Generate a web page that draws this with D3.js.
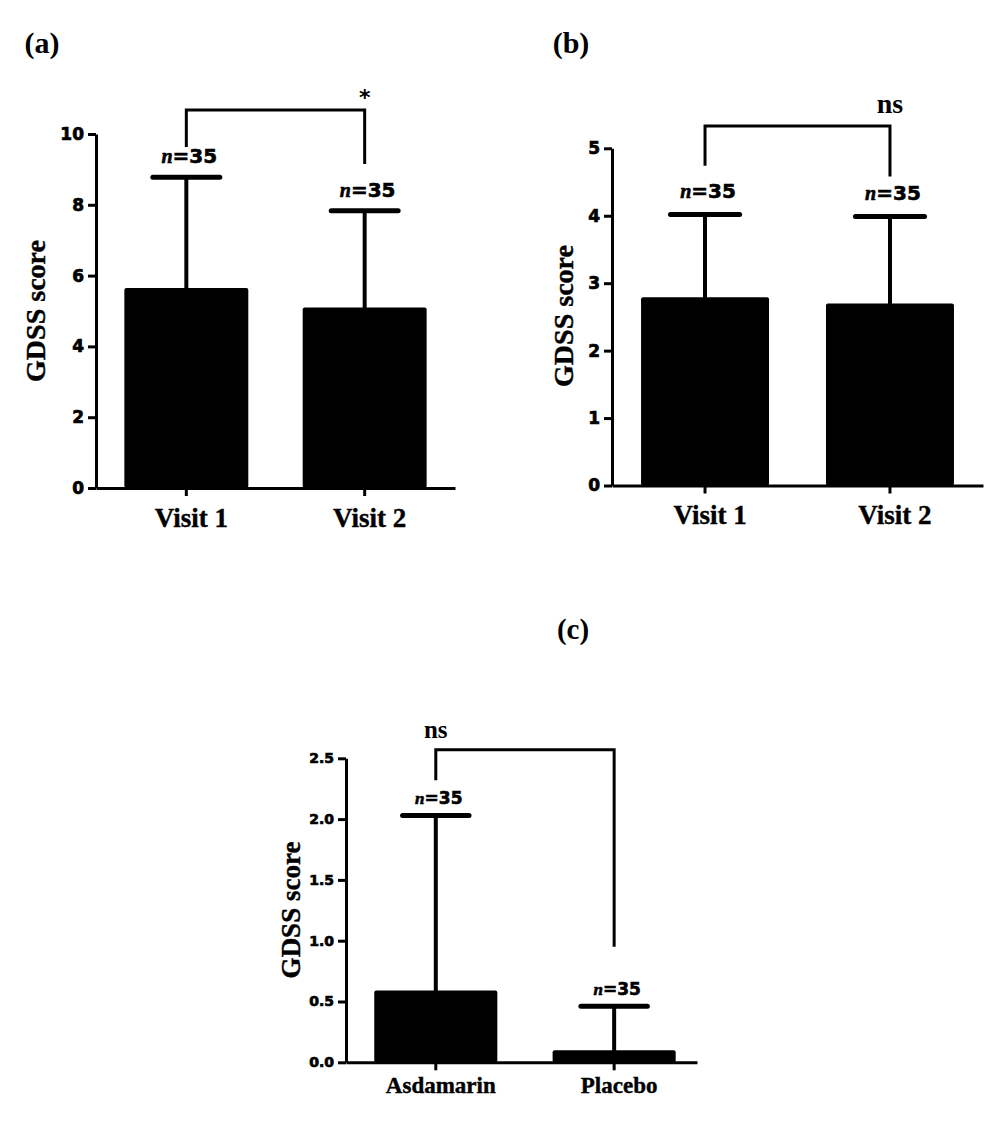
<!DOCTYPE html>
<html><head><meta charset="utf-8">
<script src="https://cdn.jsdelivr.net/npm/d3@7"></script>
<style>body{margin:0;background:#fff}</style>
</head><body>
<svg id="chart" width="1000" height="1123"></svg>
<script>
// ---------- data ----------
const groupsA = ["Visit 1", "Visit 2"];
const meanA = [5.65, 5.10];
const sdA = [3.13, 2.73];
const nA = [35, 35];
const ticksA = [0, 2, 4, 6, 8, 10];
const sigA = "*";
const bracketA = [9.63, 10.68, 9.15]; // left leg end, bar top, right leg end (score units)

const groupsB = ["Visit 1", "Visit 2"];
const meanB = [2.79, 2.70];
const sdB = [1.23, 1.29];
const nB = [35, 35];
const ticksB = [0, 1, 2, 3, 4, 5];
const sigB = "ns";
const bracketB = [4.74, 5.33, 4.58];

const groupsC = ["Asdamarin", "Placebo"];
const meanC = [0.59, 0.10];
const sdC = [1.44, 0.36];
const nC = [35, 35];
const ticksC = [0, 0.5, 1.0, 1.5, 2.0, 2.5];
const sigC = "ns";
const bracketC = [2.32, 2.57, 0.95];

const panelLabels = ["(a)", "(b)", "(c)"];
const yTitle = "GDSS score";

// ---------- layout ----------
const SERIF = "'Liberation Serif','Times New Roman',serif";
const SANS = "'DejaVu Sans',Arial,sans-serif";
const svg = d3.select("#chart");

const panels = [
  {groups: groupsA, mean: meanA, sd: sdA, n: nA, ticks: ticksA, sig: sigA, bracket: bracketA, label: panelLabels[0],
   left: 96, right: 455, bottom: 488, top: 134, pi: 0.305, po: 0.159, align: 0.5,
   tickFont: 17, fmt: d3.format("d"), catFont: 27, catY: 39, nFont: 20, nOff: 14,
   yLabX: 45, yLabY: 311, yLabFont: 28, sigSide: 1, sigFont: 22, sigGap: 5, sigFam: SANS,
   panelX: 42, panelY: 53, panelFont: 30},
  {groups: groupsB, mean: meanB, sd: sdB, n: nB, ticks: ticksB, sig: sigB, bracket: bracketB, label: panelLabels[1],
   left: 612, right: 983, bottom: 485.5, top: 148.3, pi: 0.308, po: 0.157, align: 0.5,
   tickFont: 17, fmt: d3.format("d"), catFont: 27, catY: 38, nFont: 20, nOff: 16,
   yLabX: 573, yLabY: 316, yLabFont: 28, sigSide: 1, sigFont: 28, sigGap: 13, sigFam: SERIF,
   panelX: 571, panelY: 53, panelFont: 30},
  {groups: groupsC, mean: meanC, sd: sdC, n: nC, ticks: ticksC, sig: sigC, bracket: bracketC, label: panelLabels[2],
   left: 346, right: 697, bottom: 1062.3, top: 758.3, pi: 0.31, po: 0.139, align: 0.57,
   tickFont: 14, fmt: d3.format(".1f"), catFont: 23, catY: 31, nFont: 17, nOff: 11,
   yLabX: 300, yLabY: 910, yLabFont: 27, sigSide: 0, sigFont: 25, sigGap: 12, sigFam: SERIF,
   panelX: 573, panelY: 639, panelFont: 29}
];

panels.forEach(p => {
  const g = svg.append("g");
  const x = d3.scaleBand().domain(p.groups).range([p.left, p.right])
    .paddingInner(p.pi).paddingOuter(p.po).align(p.align);
  const y = d3.scaleLinear().domain([0, d3.max(p.ticks)]).range([p.bottom, p.top]);
  const cx = d => x(d) + x.bandwidth() / 2;

  // bars
  g.selectAll("rect.bar").data(p.groups).join("rect")
    .attr("class", "bar")
    .attr("x", d => x(d)).attr("width", x.bandwidth())
    .attr("y", (d, i) => y(p.mean[i])).attr("height", (d, i) => y(0) - y(p.mean[i]))
    .attr("rx", 2).attr("fill", "#000");

  // error bars (upper only)
  const capW = x.bandwidth() * 0.54;
  g.selectAll("line.err").data(p.groups).join("line")
    .attr("class", "err")
    .attr("x1", cx).attr("x2", cx)
    .attr("y1", (d, i) => y(p.mean[i]) + 2).attr("y2", (d, i) => y(p.mean[i] + p.sd[i]))
    .attr("stroke", "#000").attr("stroke-width", 4);
  g.selectAll("line.cap").data(p.groups).join("line")
    .attr("class", "cap")
    .attr("x1", d => cx(d) - capW / 2).attr("x2", d => cx(d) + capW / 2)
    .attr("y1", (d, i) => y(p.mean[i] + p.sd[i])).attr("y2", (d, i) => y(p.mean[i] + p.sd[i]))
    .attr("stroke", "#000").attr("stroke-width", 5).attr("stroke-linecap", "round");

  // n labels
  g.selectAll("text.n").data(p.groups).join("text")
    .attr("class", "n")
    .attr("x", d => cx(d) + 3)
    .attr("y", (d, i) => y(p.mean[i] + p.sd[i]) - p.nOff)
    .attr("text-anchor", "middle")
    .attr("font-size", p.nFont)
    .attr("stroke", "#000").attr("stroke-width", 0.6)
    .each(function (d, i) {
      const t = d3.select(this);
      t.append("tspan").attr("font-family", SERIF).attr("font-style", "italic")
        .attr("font-weight", "bold").text("n");
      t.append("tspan").attr("font-family", SANS).attr("font-weight", "bold")
        .text("=" + p.n[i]);
    });

  // y axis
  const ya = g.append("g").attr("transform", `translate(${p.left},0)`)
    .call(d3.axisLeft(y).tickValues(p.ticks).tickFormat(p.fmt).tickSize(8).tickSizeOuter(0).tickPadding(4));
  ya.select(".domain").attr("stroke-width", 3);
  ya.selectAll(".tick line").attr("stroke-width", 3);
  ya.selectAll(".tick text").attr("font-family", SANS).attr("font-weight", "bold")
    .attr("font-size", p.tickFont).attr("fill", "#000")
    .attr("stroke", "#000").attr("stroke-width", 0.7);

  // x axis
  const xa = g.append("g").attr("transform", `translate(0,${p.bottom})`)
    .call(d3.axisBottom(x).tickSize(8).tickSizeOuter(0));
  xa.select(".domain").attr("stroke-width", 3);
  xa.selectAll(".tick line").attr("stroke-width", 3);
  xa.selectAll(".tick text").attr("font-family", SERIF).attr("font-weight", "bold")
    .attr("font-size", p.catFont).attr("fill", "#000")
    .attr("stroke", "#000").attr("stroke-width", 0.4)
    .attr("dy", null).attr("y", p.catY).attr("dx", 5);

  // y title
  g.append("text")
    .attr("transform", `translate(${p.yLabX},${p.yLabY}) rotate(-90)`)
    .attr("text-anchor", "middle")
    .attr("font-family", SERIF).attr("font-weight", "bold").attr("font-size", p.yLabFont)
    .attr("stroke", "#000").attr("stroke-width", 0.4)
    .text(yTitle);

  // significance bracket
  const lx = cx(p.groups[0]), rx = cx(p.groups[1]);
  g.append("path")
    .attr("d", `M${lx},${y(p.bracket[0])}V${y(p.bracket[1])}H${rx}V${y(p.bracket[2])}`)
    .attr("fill", "none").attr("stroke", "#000").attr("stroke-width", 3);
  g.append("text")
    .attr("x", p.sigSide ? rx : lx)
    .attr("y", y(p.bracket[1]) - p.sigGap)
    .attr("text-anchor", "middle")
    .attr("font-family", p.sigFam).attr("font-weight", "bold").attr("font-size", p.sigFont)
    .text(p.sig);

  // panel label
  svg.append("text")
    .attr("x", p.panelX).attr("y", p.panelY)
    .attr("text-anchor", "middle")
    .attr("font-family", SERIF).attr("font-weight", "bold").attr("font-size", p.panelFont)
    .text(p.label);
});
</script>
</body></html>
